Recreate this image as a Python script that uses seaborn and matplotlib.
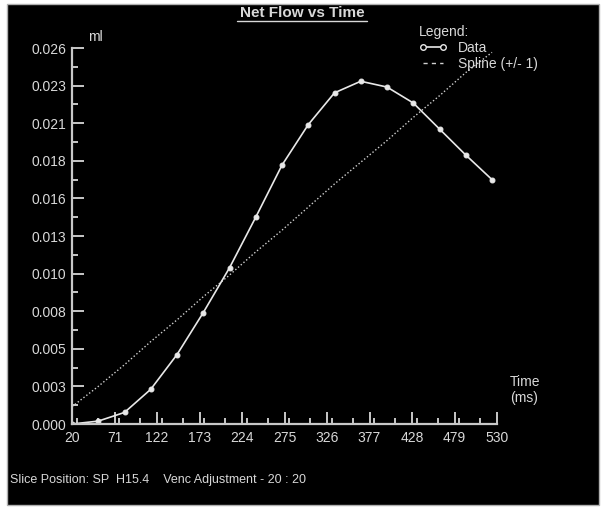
import numpy as np
import pandas as pd
import matplotlib.pyplot as plt
import matplotlib.patches as mpatches
from matplotlib.lines import Line2D
from matplotlib.ticker import MultipleLocator, FixedLocator
import seaborn as sns

# Data
time_ms = [20, 51.5, 83, 114.5, 146, 177.5, 209, 240.5, 272, 303.5,
           335, 366.5, 398, 429.5, 461, 492.5, 524]
net_flow = [0.0000, 0.0002, 0.0008, 0.0024, 0.0048, 0.0077, 0.0108, 0.0143, 0.0179,
            0.0207, 0.0229, 0.0237, 0.0233, 0.0222, 0.0204, 0.0186, 0.0169]
spline = [0.0012, 0.0026, 0.0041, 0.0057, 0.0072, 0.0088, 0.0103, 0.0119, 0.0134,
          0.0150, 0.0166, 0.0181, 0.0196, 0.0212, 0.0227, 0.0243, 0.0257]
x_ticks = [20, 71, 122, 173, 224, 275, 326, 377, 428, 479, 530]
y_ticks = [0.0, 0.0026, 0.0052, 0.0078, 0.0104, 0.013, 0.0156, 0.0182, 0.0208, 0.0234, 0.026]
y_labels = ['0.000', '0.003', '0.005', '0.008', '0.010', '0.013', '0.016', '0.018', '0.021', '0.023', '0.026']

df = pd.DataFrame({'time': time_ms, 'flow': net_flow, 'spline': spline})

sns.set_style("ticks")
plt.rcParams['font.family'] = ['Liberation Sans', 'DejaVu Sans']

W, H = 601, 508
fig = plt.figure(figsize=(W / 100, H / 100), dpi=100, facecolor='white')

# black screen panel with thin grey frame
fig.patches.append(mpatches.Rectangle((7 / W, 1 - 505 / H), 592 / W, 501 / H,
                                      transform=fig.transFigure, facecolor='black',
                                      edgecolor='#b0b0b0', linewidth=1, zorder=-10))

txt = '#d8d8d8'
ax = fig.add_axes([72 / W, 1 - 424 / H, 425 / W, 376 / H])
ax.set_facecolor('none')
ax.set_zorder(5)

sns.lineplot(data=df, x='time', y='spline', ax=ax, color='#d0d0d0',
             linewidth=1.0, linestyle=(0, (1, 1.6)))
sns.lineplot(data=df, x='time', y='flow', ax=ax, color='#e8e8e8', linewidth=1.2,
             marker='o', markersize=3.5, markeredgecolor='#e8e8e8', markerfacecolor='#e8e8e8')

ax.set_xlim(20, 530)
ax.set_ylim(0, 0.026)
ax.xaxis.set_major_locator(FixedLocator(x_ticks))
ax.xaxis.set_minor_locator(MultipleLocator(25.5))
ax.set_xticklabels([str(t) for t in x_ticks])
ax.yaxis.set_major_locator(FixedLocator(y_ticks))
ax.yaxis.set_minor_locator(MultipleLocator(0.0013))
ax.set_yticklabels(y_labels)
ax.set_xlabel('')
ax.set_ylabel('')

for s in ['top', 'right']:
    ax.spines[s].set_visible(False)
for s in ['left', 'bottom']:
    ax.spines[s].set_color('#c8c8c8')
    ax.spines[s].set_linewidth(1.6)
ax.tick_params(which='both', direction='in', color='#c8c8c8', width=1.4,
               labelcolor=txt, labelsize=10)
ax.tick_params(which='major', length=8.5)
ax.tick_params(which='minor', length=4.3)
ax.tick_params(axis='x', pad=5)
ax.tick_params(axis='y', pad=4)

# title with underline
fig.text(302 / W, 1 - 13 / H, 'Net Flow vs Time', color=txt, fontsize=11,
         fontweight='bold', ha='center', va='center')
fig.add_artist(Line2D([237 / W, 367 / W], [1 - 21 / H, 1 - 21 / H],
                      transform=fig.transFigure, color=txt, linewidth=1))

fig.text(88 / W, 1 - 37 / H, 'ml', color=txt, fontsize=10, va='center')
fig.text(510 / W, 1 - 382 / H, 'Time', color=txt, fontsize=10, va='center')
fig.text(510 / W, 1 - 398 / H, '(ms)', color=txt, fontsize=10, va='center')
fig.text(10 / W, 1 - 480 / H, 'Slice Position: SP  H15.4    Venc Adjustment - 20 : 20',
         color=txt, fontsize=9, va='center')

# legend
handles = [Line2D([], [], color='#e8e8e8', linewidth=1.2, marker='o', markersize=4,
                  markerfacecolor='black', markeredgecolor='#e8e8e8'),
           Line2D([], [], color='#d0d0d0', linewidth=1.0, linestyle=(0, (3, 3)))]
leg = ax.legend(handles, ['Data', 'Spline (+/- 1)'], title='Legend:', frameon=False,
                loc='upper left', bbox_to_anchor=(412 / W, 1 - 18 / H),
                bbox_transform=fig.transFigure, numpoints=2, handlelength=2.0,
                handletextpad=0.8, labelspacing=0.15, borderpad=0, fontsize=10,
                alignment='left')
leg.get_title().set_color(txt)
leg.get_title().set_fontsize(10)
for t in leg.get_texts():
    t.set_color(txt)

fig.savefig('out.png', dpi=100, facecolor='white')
